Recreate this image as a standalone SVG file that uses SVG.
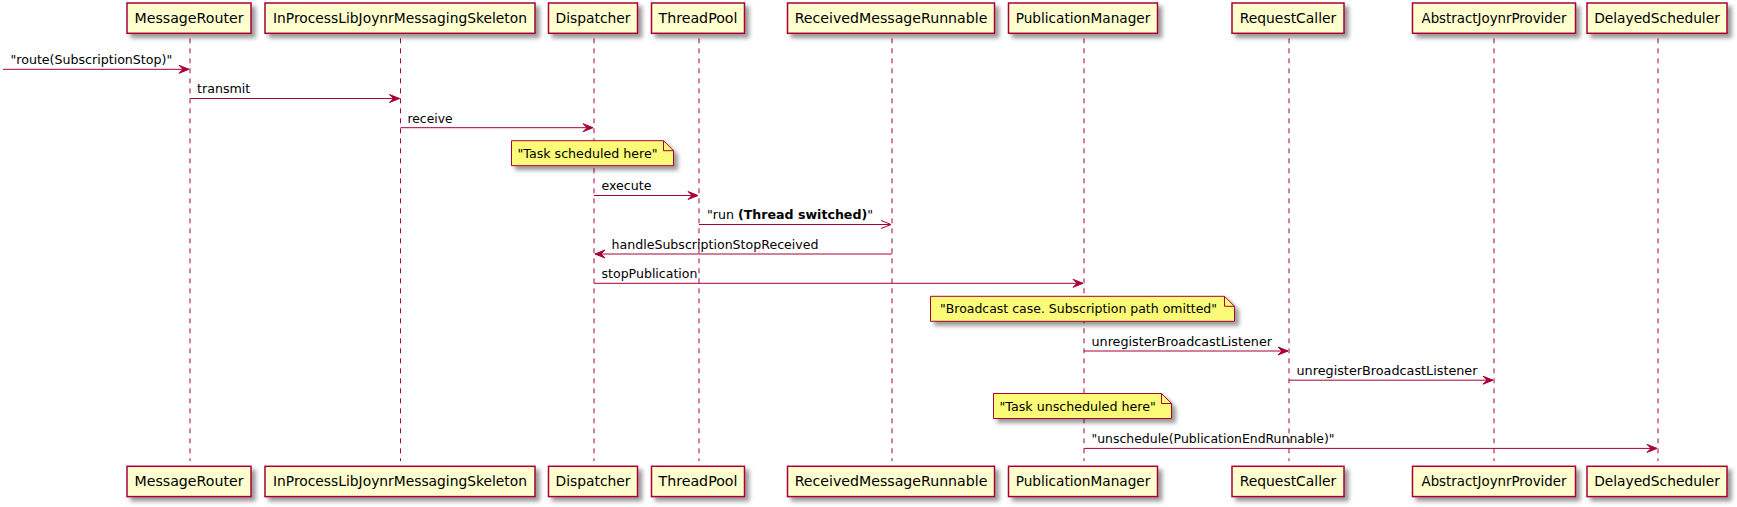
<svg xmlns="http://www.w3.org/2000/svg" width="1737" height="507" viewBox="0 0 1737 507">
<defs>
<filter id="sh" x="-1" y="-1" width="300%" height="300%">
<feGaussianBlur result="b1" stdDeviation="2.0"/>
<feColorMatrix in="b1" result="b2" type="matrix" values="0 0 0 0 0 0 0 0 0 0 0 0 0 0 0 0 0 0 .4 0"/>
<feOffset dx="4.0" dy="4.0" in="b2" result="b3"/>
<feBlend in="SourceGraphic" in2="b3" mode="normal"/>
</filter>
</defs>
<style>
.box{fill:#FEFECE;stroke:#A80036;stroke-width:1.5;filter:url(#sh)}
.life{stroke:#A80036;stroke-width:1;stroke-dasharray:5,5;fill:none}
.pt{font-family:"DejaVu Sans",sans-serif;font-size:14px;fill:#000;text-anchor:middle}
.msg{stroke:#A80036;stroke-width:1;fill:none}
.head{fill:#A80036;stroke:#A80036;stroke-width:1}
.mt{font-family:"DejaVu Sans",sans-serif;font-size:13px;fill:#000}
.note{fill:#FBFB77;stroke:#A80036;stroke-width:1;filter:url(#sh)}
.fold{fill:none;stroke:#A80036;stroke-width:1}
</style>
<rect width="1737" height="507" fill="#FFFFFF"/>

<g id="MessageRouter">
<line class="life" x1="190" y1="38.3" x2="190" y2="461"/>
<rect class="box" x="127" y="3" width="124" height="30.3"/>
<text class="pt" x="189" y="23" textLength="109" lengthAdjust="spacingAndGlyphs">MessageRouter</text>
<rect class="box" x="127" y="466.3" width="124" height="30.3"/>
<text class="pt" x="189" y="486.3" textLength="109" lengthAdjust="spacingAndGlyphs">MessageRouter</text>
</g>
<g id="InProcessLibJoynrMessagingSkeleton">
<line class="life" x1="400.5" y1="38.3" x2="400.5" y2="461"/>
<rect class="box" x="265" y="3" width="270" height="30.3"/>
<text class="pt" x="400" y="23" textLength="254" lengthAdjust="spacingAndGlyphs">InProcessLibJoynrMessagingSkeleton</text>
<rect class="box" x="265" y="466.3" width="270" height="30.3"/>
<text class="pt" x="400" y="486.3" textLength="254" lengthAdjust="spacingAndGlyphs">InProcessLibJoynrMessagingSkeleton</text>
</g>
<g id="Dispatcher">
<line class="life" x1="594" y1="38.3" x2="594" y2="461"/>
<rect class="box" x="548.5" y="3" width="89" height="30.3"/>
<text class="pt" x="593" y="23" textLength="75" lengthAdjust="spacingAndGlyphs">Dispatcher</text>
<rect class="box" x="548.5" y="466.3" width="89" height="30.3"/>
<text class="pt" x="593" y="486.3" textLength="75" lengthAdjust="spacingAndGlyphs">Dispatcher</text>
</g>
<g id="ThreadPool">
<line class="life" x1="699" y1="38.3" x2="699" y2="461"/>
<rect class="box" x="651.5" y="3" width="93" height="30.3"/>
<text class="pt" x="698" y="23" textLength="79" lengthAdjust="spacingAndGlyphs">ThreadPool</text>
<rect class="box" x="651.5" y="466.3" width="93" height="30.3"/>
<text class="pt" x="698" y="486.3" textLength="79" lengthAdjust="spacingAndGlyphs">ThreadPool</text>
</g>
<g id="ReceivedMessageRunnable">
<line class="life" x1="892" y1="38.3" x2="892" y2="461"/>
<rect class="box" x="787.5" y="3" width="207" height="30.3"/>
<text class="pt" x="891" y="23" textLength="192.7" lengthAdjust="spacingAndGlyphs">ReceivedMessageRunnable</text>
<rect class="box" x="787.5" y="466.3" width="207" height="30.3"/>
<text class="pt" x="891" y="486.3" textLength="192.7" lengthAdjust="spacingAndGlyphs">ReceivedMessageRunnable</text>
</g>
<g id="PublicationManager">
<line class="life" x1="1084" y1="38.3" x2="1084" y2="461"/>
<rect class="box" x="1008.5" y="3" width="149" height="30.3"/>
<text class="pt" x="1083" y="23" textLength="134.7" lengthAdjust="spacingAndGlyphs">PublicationManager</text>
<rect class="box" x="1008.5" y="466.3" width="149" height="30.3"/>
<text class="pt" x="1083" y="486.3" textLength="134.7" lengthAdjust="spacingAndGlyphs">PublicationManager</text>
</g>
<g id="RequestCaller">
<line class="life" x1="1289" y1="38.3" x2="1289" y2="461"/>
<rect class="box" x="1232" y="3" width="112" height="30.3"/>
<text class="pt" x="1288" y="23" textLength="96.7" lengthAdjust="spacingAndGlyphs">RequestCaller</text>
<rect class="box" x="1232" y="466.3" width="112" height="30.3"/>
<text class="pt" x="1288" y="486.3" textLength="96.7" lengthAdjust="spacingAndGlyphs">RequestCaller</text>
</g>
<g id="AbstractJoynrProvider">
<line class="life" x1="1494" y1="38.3" x2="1494" y2="461"/>
<rect class="box" x="1412.5" y="3" width="163" height="30.3"/>
<text class="pt" x="1494" y="23" textLength="145" lengthAdjust="spacingAndGlyphs">AbstractJoynrProvider</text>
<rect class="box" x="1412.5" y="466.3" width="163" height="30.3"/>
<text class="pt" x="1494" y="486.3" textLength="145" lengthAdjust="spacingAndGlyphs">AbstractJoynrProvider</text>
</g>
<g id="DelayedScheduler">
<line class="life" x1="1658" y1="38.3" x2="1658" y2="461"/>
<rect class="box" x="1587" y="3" width="140" height="30.3"/>
<text class="pt" x="1657" y="23" textLength="125.7" lengthAdjust="spacingAndGlyphs">DelayedScheduler</text>
<rect class="box" x="1587" y="466.3" width="140" height="30.3"/>
<text class="pt" x="1657" y="486.3" textLength="125.7" lengthAdjust="spacingAndGlyphs">DelayedScheduler</text>
</g>

<g id="note1">
<path class="note" d="M511.5,140.7 L511.5,165.7 L673.5,165.7 L673.5,150.7 L663.5,140.7 Z"/>
<path class="fold" d="M663.5,140.7 L663.5,150.7 L673.5,150.7"/>
<text class="mt" x="517.5" y="157.7" textLength="140" lengthAdjust="spacingAndGlyphs">"Task scheduled here"</text>
</g>
<g id="note2">
<path class="note" d="M930.5,296.3 L930.5,321.3 L1234.5,321.3 L1234.5,306.3 L1224.5,296.3 Z"/>
<path class="fold" d="M1224.5,296.3 L1224.5,306.3 L1234.5,306.3"/>
<text class="mt" x="940" y="313.3" textLength="277" lengthAdjust="spacingAndGlyphs">"Broadcast case. Subscription path omitted"</text>
</g>
<g id="note3">
<path class="note" d="M993.5,393.5 L993.5,418.5 L1171.5,418.5 L1171.5,403.5 L1161.5,393.5 Z"/>
<path class="fold" d="M1161.5,393.5 L1161.5,403.5 L1171.5,403.5"/>
<text class="mt" x="999.5" y="410.5" textLength="156.3" lengthAdjust="spacingAndGlyphs">"Task unscheduled here"</text>
</g>

<g id="connectors">
<line class="msg" x1="3" y1="69.3" x2="189" y2="69.3"/>
<polygon class="head" points="179,65.3 189,69.3 179,73.3 183,69.3"/>
<text class="mt" x="10.5" y="64.2" textLength="161.7" lengthAdjust="spacingAndGlyphs">"route(SubscriptionStop)"</text>

<line class="msg" x1="190" y1="98.5" x2="399.5" y2="98.5"/>
<polygon class="head" points="389.5,94.5 399.5,98.5 389.5,102.5 393.5,98.5"/>
<text class="mt" x="197" y="93.4" textLength="53.3" lengthAdjust="spacingAndGlyphs">transmit</text>

<line class="msg" x1="400.5" y1="127.7" x2="593" y2="127.7"/>
<polygon class="head" points="583,123.7 593,127.7 583,131.7 587,127.7"/>
<text class="mt" x="407.5" y="122.6" textLength="45" lengthAdjust="spacingAndGlyphs">receive</text>

<line class="msg" x1="594" y1="195.5" x2="698" y2="195.5"/>
<polygon class="head" points="688,191.5 698,195.5 688,199.5 692,195.5"/>
<text class="mt" x="601.5" y="190.4" textLength="50" lengthAdjust="spacingAndGlyphs">execute</text>

<line class="msg" x1="699" y1="224.5" x2="891" y2="224.5"/>
<line class="msg" x1="881" y1="220.5" x2="891" y2="224.5"/>
<line class="msg" x1="881" y1="228.5" x2="891" y2="224.5"/>
<text class="mt" x="707" y="219.4" textLength="166" lengthAdjust="spacingAndGlyphs">"run <tspan font-weight="bold">(Thread switched)</tspan>"</text>

<line class="msg" x1="892" y1="254" x2="595" y2="254"/>
<polygon class="head" points="605,250 595,254 605,258 601,254"/>
<text class="mt" x="611.5" y="248.9" textLength="207" lengthAdjust="spacingAndGlyphs">handleSubscriptionStopReceived</text>

<line class="msg" x1="594" y1="283.3" x2="1083" y2="283.3"/>
<polygon class="head" points="1073,279.3 1083,283.3 1073,287.3 1077,283.3"/>
<text class="mt" x="601.5" y="278.2" textLength="96" lengthAdjust="spacingAndGlyphs">stopPublication</text>

<line class="msg" x1="1084" y1="351" x2="1288" y2="351"/>
<polygon class="head" points="1278,347 1288,351 1278,355 1282,351"/>
<text class="mt" x="1091.5" y="345.9" textLength="180.5" lengthAdjust="spacingAndGlyphs">unregisterBroadcastListener</text>

<line class="msg" x1="1289" y1="380.2" x2="1493" y2="380.2"/>
<polygon class="head" points="1483,376.2 1493,380.2 1483,384.2 1487,380.2"/>
<text class="mt" x="1296.5" y="375.1" textLength="181" lengthAdjust="spacingAndGlyphs">unregisterBroadcastListener</text>

<line class="msg" x1="1084" y1="448.4" x2="1657" y2="448.4"/>
<polygon class="head" points="1647,444.4 1657,448.4 1647,452.4 1651,448.4"/>
<text class="mt" x="1091.5" y="443.3" textLength="243" lengthAdjust="spacingAndGlyphs">"unschedule(PublicationEndRunnable)"</text>
</g>
</svg>
